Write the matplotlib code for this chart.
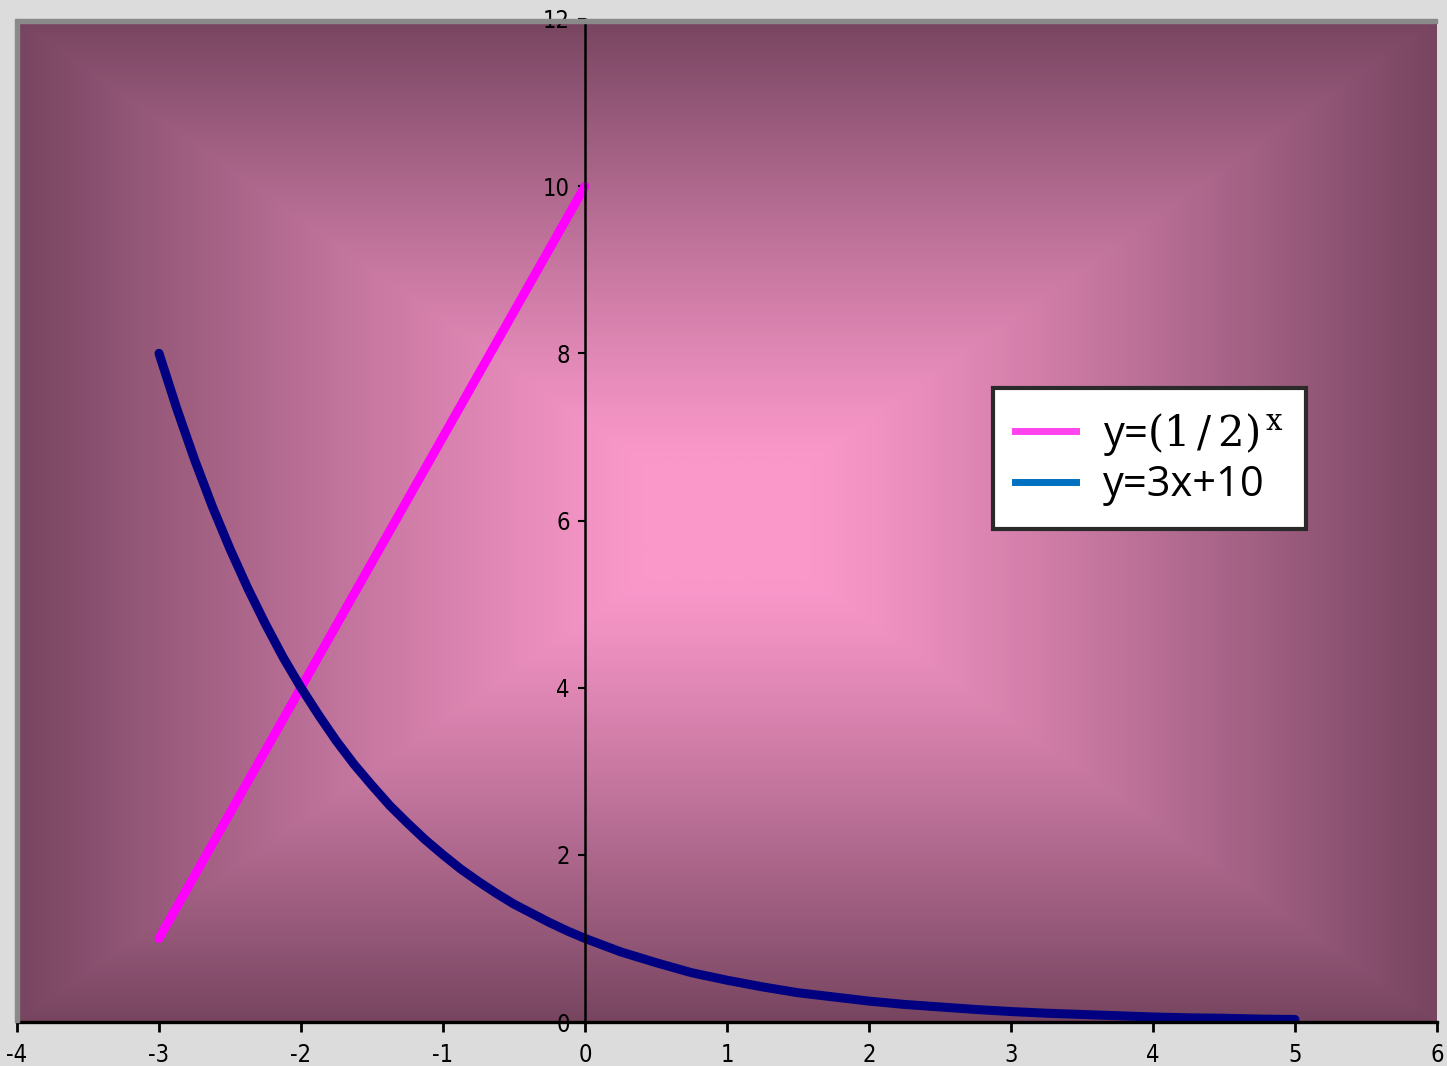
import matplotlib
matplotlib.use("Agg")
import matplotlib.pyplot as plt
from matplotlib import font_manager
import numpy as np
from matplotlib.lines import Line2D
from matplotlib.patches import Rectangle

# straight line
line_x = [-3, -2, -1, 0]
line_y = [1, 4, 7, 10]

# curve
curve_x = [-3, -2.875, -2.75, -2.625, -2.5, -2.375, -2.25, -2.125, -2, -1.875,
           -1.75, -1.625, -1.5, -1.375, -1.25, -1.125, -1, -0.875, -0.75, -0.625,
           -0.5, -0.375, -0.25, -0.125, 0, 0.25, 0.5, 0.75, 1, 1.25, 1.5, 1.75,
           2, 2.25, 2.5, 2.75, 3, 3.25, 3.5, 3.75, 4, 4.25, 4.5, 4.75, 5]
curve_y = [8, 7.34, 6.73, 6.17, 5.66, 5.19, 4.76, 4.36, 4, 3.67,
           3.36, 3.08, 2.83, 2.59, 2.38, 2.18, 2, 1.83, 1.68, 1.54,
           1.41, 1.30, 1.19, 1.09, 1, 0.84, 0.71, 0.59, 0.5, 0.42, 0.35, 0.30,
           0.25, 0.21, 0.18, 0.15, 0.125, 0.105, 0.09, 0.075, 0.06, 0.05, 0.045, 0.035, 0.03]

legend_labels = [r"y=$\mathrm{(1\,/\,2)}^{\,\mathrm{x}}$", "y=3x+10"]
x_ticks = [-4, -3, -2, -1, 0, 1, 2, 3, 4, 5, 6]
y_ticks = [0, 2, 4, 6, 8, 10, 12]

plt.rcParams["mathtext.fontset"] = "dejavuserif"
plt.rcParams["axes.unicode_minus"] = False

names = {f.name for f in font_manager.fontManager.ttflist}
tick_font = [n for n in ["Liberation Sans Narrow", "DejaVu Sans"] if n in names]
condensed = any(f.name == "DejaVu Sans" and f.stretch == "condensed"
                for f in font_manager.fontManager.ttflist)

fig = plt.figure(figsize=(14.47, 10.66), dpi=100)
fig.patch.set_facecolor("#dcdcdc")
ax = fig.add_axes([17 / 1447, 44 / 1066, 1420 / 1447, 1003 / 1066])

# rectangular "from centre" gradient fill of the plot area
centre = np.array([250, 152, 202]) / 255
edge = np.array([119, 69, 96]) / 255
u = np.linspace(-1, 1, 600)
v = np.linspace(-1, 1, 450)
U, V = np.meshgrid(u, v)
t = np.clip((np.maximum(np.abs(U), np.abs(V)) - 0.12) / 0.88, 0, 1) ** 1.15
grad = centre[None, None, :] * (1 - t[..., None]) + edge[None, None, :] * t[..., None]
ax.imshow(grad, extent=[0, 1, 0, 1], transform=ax.transAxes, aspect="auto",
          zorder=0, interpolation="bilinear")

ax.plot(line_x, line_y, color="#ff00ff", lw=6.5, solid_capstyle="round", zorder=3)
ax.plot(curve_x, curve_y, color="#000080", lw=6.5, solid_capstyle="round",
        solid_joinstyle="round", zorder=3)

ax.set_xlim(-4, 6)
ax.set_ylim(0, 12)
ax.set_xticks(x_ticks)
ax.set_yticks(y_ticks)

ax.spines["top"].set_visible(False)
ax.spines["right"].set_visible(False)
ax.spines["left"].set_position(("data", 0))
ax.spines["left"].set_linewidth(1.8)
ax.spines["bottom"].set_linewidth(2.4)
ax.spines["left"].set_zorder(4)
ax.spines["bottom"].set_zorder(4)

ax.tick_params(axis="x", direction="out", length=7, width=2, pad=8, labelsize=17)
ax.tick_params(axis="y", direction="out", length=5, width=1.5, pad=6, labelsize=17)
for lab in ax.get_xticklabels() + ax.get_yticklabels():
    lab.set_family(tick_font)
    if condensed and tick_font[0] == "DejaVu Sans":
        lab.set_stretch("condensed")

# grey edge along top and left of the plot area
ax.add_patch(Rectangle((0, 0.996), 1, 0.004, transform=ax.transAxes,
                       color="#8a8a8a", zorder=5, clip_on=False))
ax.add_patch(Rectangle((-0.0014, 0), 0.0025, 1, transform=ax.transAxes,
                       color="#8a8a8a", zorder=5, clip_on=False))

handles = [Line2D([], [], color="#ff44ee", lw=5),
           Line2D([], [], color="#0070c0", lw=5)]
leg = ax.legend(handles, legend_labels, loc="upper left",
                bbox_to_anchor=(0.687, 0.632), frameon=True, fancybox=False,
                prop={"family": ["Open Sans", "DejaVu Sans"], "size": 30},
                handlelength=1.45, handletextpad=0.65, labelspacing=0.15,
                borderpad=0.55, borderaxespad=0)
leg.get_frame().set_edgecolor("#2a2a2a")
leg.get_frame().set_linewidth(3)
leg.get_frame().set_facecolor("white")
leg.get_frame().set_alpha(1)
leg.set_zorder(6)

fig.savefig("out.png", dpi=100, facecolor=fig.get_facecolor())
